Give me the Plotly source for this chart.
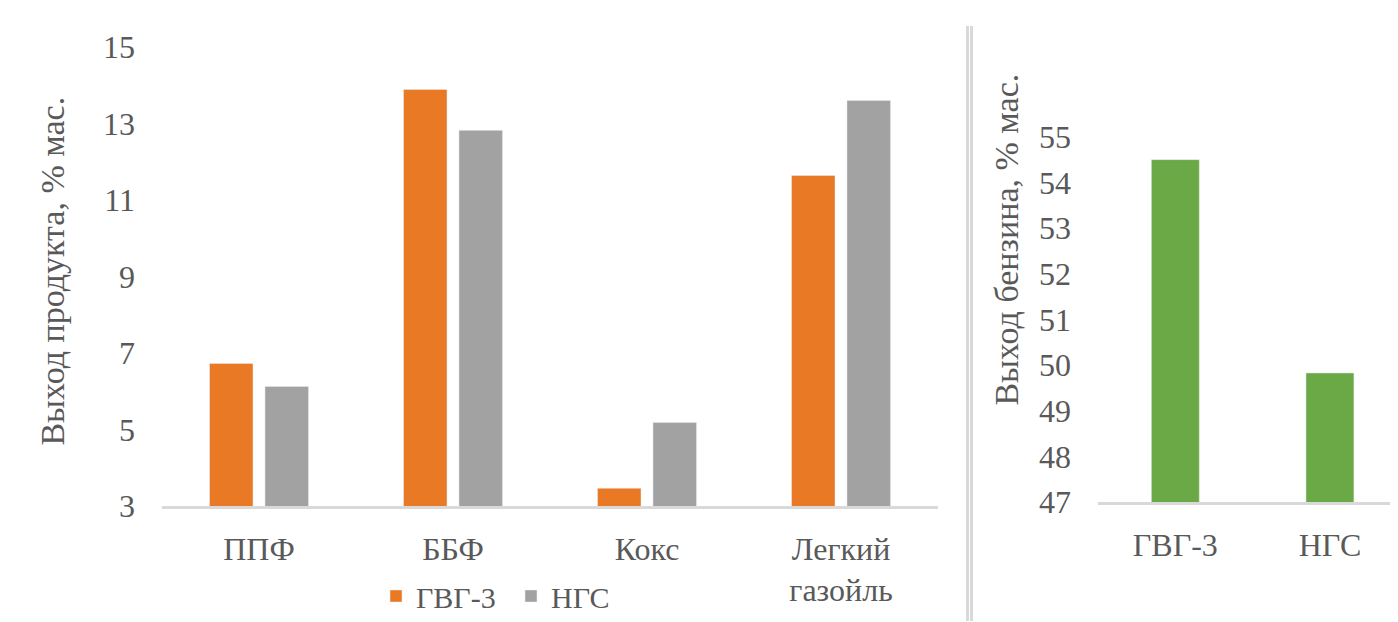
import plotly.graph_objects as go

# ---- data ----
products = ["ППФ", "ББФ", "Кокс", "Легкий<br>газойль"]
gvg3_yield = [6.73, 13.89, 3.47, 11.64]
ngs_yield = [6.13, 12.82, 5.19, 13.60]
feeds = ["ГВГ-3", "НГС"]
gasoline_yield = [54.5, 49.83]

# page body has an 8px margin; the figure is sized so it ends at the window edge
OFF = 8
W, H = 1398 - OFF, 622 - OFF
TXT = "#595959"
FONT = "Liberation Serif"
ORANGE = "#E97924"
GRAY = "#A2A2A2"
GREEN = "#6BA846"
LINE = "#D9D9D9"
FS = 32
FT = 34

def px_x(p):
    return min(1.0, (p - OFF) / W)

def px_y(p):
    return 1 - (p - OFF) / H

fig = go.Figure()
fig.add_trace(go.Bar(x=products, y=gvg3_yield, name="ГВГ-3", marker_color=ORANGE,
                     xaxis="x", yaxis="y"))
fig.add_trace(go.Bar(x=products, y=ngs_yield, name="НГС", marker_color=GRAY,
                     xaxis="x", yaxis="y"))
fig.add_trace(go.Bar(x=feeds, y=gasoline_yield, name="бензин", marker_color=GREEN,
                     width=0.31, showlegend=False, xaxis="x2", yaxis="y2"))

axis_font = dict(family=FONT, size=FS, color=TXT)

fig.update_layout(
    width=W, height=H,
    margin=dict(l=0, r=0, t=0, b=0),
    paper_bgcolor="white", plot_bgcolor="white",
    font=dict(family=FONT, size=FS, color=TXT),
    barmode="group", bargap=0.428, bargroupgap=0.216,
    xaxis=dict(domain=[px_x(162), px_x(938)], anchor="y", type="category",
               showline=True, linecolor=LINE, linewidth=3, showgrid=False,
               ticks="", tickfont=axis_font, ticklabelstandoff=12, automargin=False),
    yaxis=dict(domain=[px_y(507), px_y(47)], anchor="x", range=[3, 15], dtick=2,
               tick0=3, showgrid=False, zeroline=False, showline=False, ticks="",
               tickfont=axis_font, ticklabelstandoff=26, automargin=False),
    xaxis2=dict(domain=[px_x(1098), 1.0], anchor="y2", type="category",
                range=[-0.5, 1.44],
                showline=True, linecolor=LINE, linewidth=3, showgrid=False,
                ticks="", tickfont=axis_font, ticklabelstandoff=12, automargin=False),
    yaxis2=dict(domain=[px_y(503), px_y(137)], anchor="x2", range=[47, 55], dtick=1,
                showgrid=False, zeroline=False, showline=False, ticks="",
                tickfont=axis_font, ticklabelstandoff=26, automargin=False),
    legend=dict(orientation="h", x=px_x(376), xanchor="left", y=px_y(597),
                yanchor="middle", font=dict(family=FONT, size=30, color=TXT),
                bgcolor="rgba(0,0,0,0)", itemwidth=30, tracegroupgap=0,
                entrywidth=90, entrywidthmode="pixels"),
    annotations=[
        dict(text="Выход продукта, % мас.", x=px_x(53), y=px_y(272), xref="paper",
             yref="paper", xanchor="center", yanchor="middle", textangle=-90,
             showarrow=False, font=dict(family=FONT, size=FT, color=TXT)),
        dict(text="Выход бензина, % мас.", x=px_x(1007), y=px_y(240), xref="paper",
             yref="paper", xanchor="center", yanchor="middle", textangle=-90,
             showarrow=False, font=dict(family=FONT, size=FT, color=TXT)),
    ],
    shapes=[
        dict(type="line", xref="paper", yref="paper", x0=px_x(967.5), x1=px_x(967.5),
             y0=0, y1=px_y(26), line=dict(color=LINE, width=3)),
        dict(type="line", xref="paper", yref="paper", x0=px_x(971.5), x1=px_x(971.5),
             y0=0, y1=px_y(26), line=dict(color=LINE, width=3)),
    ],
)

fig.write_html("out.html")
